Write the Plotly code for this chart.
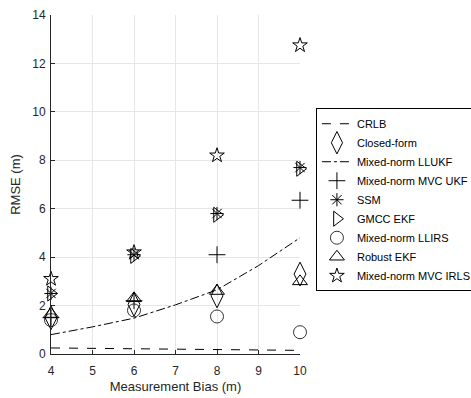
import plotly.graph_objects as go

bias = [4, 6, 8, 10]
bias_fine = [4, 5, 6, 7, 8, 9, 10]

crlb = [0.25, 0.23, 0.21, 0.19, 0.17, 0.16, 0.15]
lukf = [0.8, 1.12, 1.48, 2.03, 2.65, 3.65, 4.8]
closed_form = [1.5, 2.05, 2.4, 3.3]
mvc_ukf = [1.5, 2.2, 4.1, 6.35]
ssm = [2.5, 4.1, 5.8, 7.7]
gmcc = [2.5, 4.05, 5.75, 7.65]
llirs = [1.4, 1.8, 1.55, 0.9]
robust = [1.65, 2.3, 2.6, 3.0]
irls = [3.1, 4.2, 8.2, 12.75]

fig = go.Figure()
fig.add_trace(go.Scatter(x=bias_fine, y=crlb, mode="lines", name="CRLB",
                         line=dict(color="black", width=1, dash="dash")))
fig.add_trace(go.Scatter(x=bias, y=closed_form, mode="markers", name="Closed-form", cliponaxis=False,
                         marker=dict(symbol="diamond-tall-open", size=17, color="black", line=dict(width=1))))
fig.add_trace(go.Scatter(x=bias_fine, y=lukf, mode="lines", name="Mixed-norm LLUKF",
                         line=dict(color="black", width=1, dash="dashdot")))
fig.add_trace(go.Scatter(x=bias, y=mvc_ukf, mode="markers", name="Mixed-norm MVC UKF", cliponaxis=False,
                         marker=dict(symbol="cross-thin-open", size=12, color="black", line=dict(width=1, color="black"))))
fig.add_trace(go.Scatter(x=bias, y=ssm, mode="markers", name="SSM", cliponaxis=False,
                         marker=dict(symbol="asterisk-open", size=11, color="black", line=dict(width=1, color="black"))))
fig.add_trace(go.Scatter(x=bias, y=gmcc, mode="markers", name="GMCC EKF", cliponaxis=False,
                         marker=dict(symbol="triangle-right-open", size=13, color="black", line=dict(width=1))))
fig.add_trace(go.Scatter(x=bias, y=llirs, mode="markers", name="Mixed-norm LLIRS", cliponaxis=False,
                         marker=dict(symbol="circle-open", size=13, color="black", line=dict(width=0.8))))
fig.add_trace(go.Scatter(x=bias, y=robust, mode="markers", name="Robust EKF", cliponaxis=False,
                         marker=dict(symbol="triangle-up-open", size=13, color="black", line=dict(width=1))))
fig.add_trace(go.Scatter(x=bias, y=irls, mode="markers", name="Mixed-norm MVC IRLS", cliponaxis=False,
                         marker=dict(symbol="star-open", size=11, color="black", line=dict(width=1))))

axis_common = dict(showgrid=True, gridcolor="#e6e6e6", gridwidth=1, zeroline=False,
                   showline=True, linecolor="#262626", linewidth=1, ticks="inside",
                   ticklen=4, tickcolor="#262626", mirror=False,
                   tickfont=dict(family="Liberation Sans, Arial", size=12, color="#262626"),
                   title_font=dict(family="Liberation Sans, Arial", size=13, color="#262626"))

fig.update_layout(
    width=471, height=398,
    margin=dict(l=51, r=171, t=15, b=44, autoexpand=False),
    paper_bgcolor="white", plot_bgcolor="white",
    xaxis=dict(range=[4, 10], dtick=1, ticklabelstandoff=6,
               title=dict(text="Measurement Bias (m)", standoff=4), **axis_common),
    yaxis=dict(range=[0, 14], dtick=2, ticklabelstandoff=2,
               title=dict(text="RMSE (m)", standoff=8), **axis_common),
    legend=dict(x=1.064, y=0.725, xanchor="left", yanchor="top",
                bordercolor="black", borderwidth=1, bgcolor="white",
                font=dict(family="Liberation Sans, Arial", size=11, color="black"),
                tracegroupgap=0, itemwidth=30),
    showlegend=True,
)

fig.write_html("out.html")
